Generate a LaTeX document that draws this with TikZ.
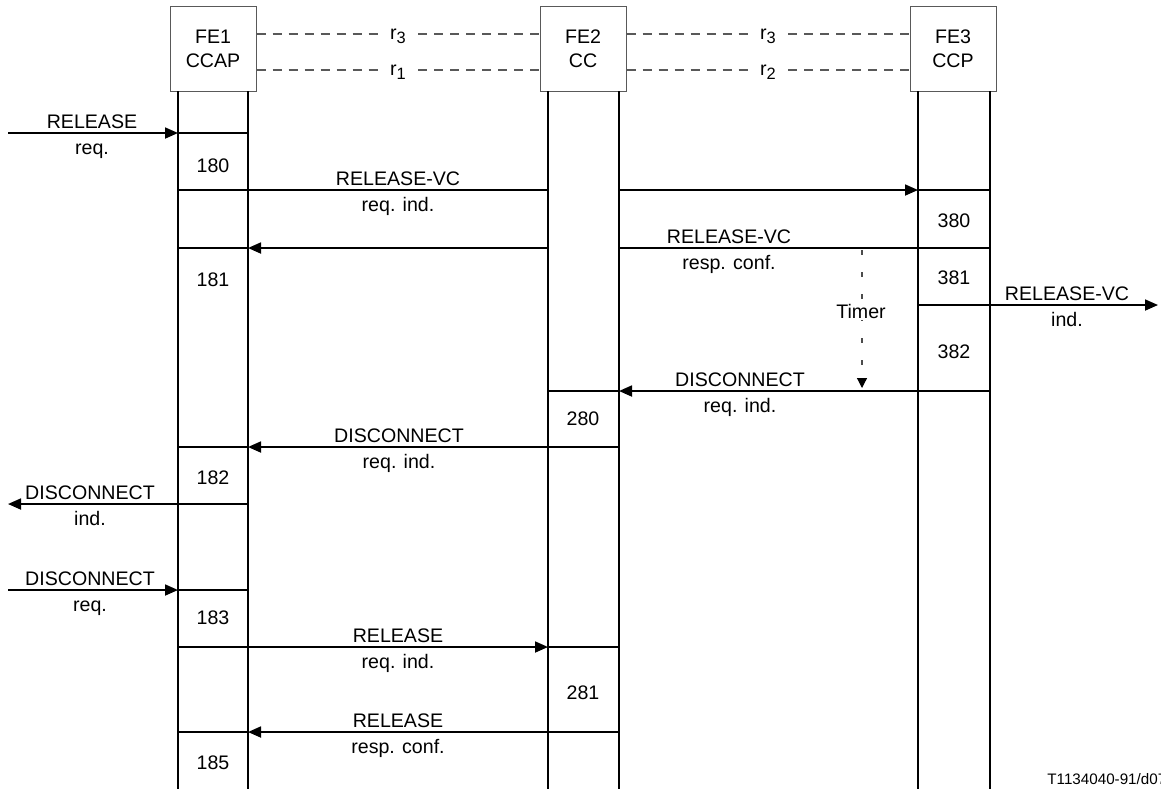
\documentclass[tikz,border=0pt]{standalone}
\usepackage{fontspec}
\setmainfont{Liberation Sans}
\usetikzlibrary{arrows.meta}

\newcommand{\relsub}[1]{r\raisebox{-0.4ex}{\fontsize{8.2}{9}\selectfont #1}}

\begin{document}
\begin{tikzpicture}[x=0.5pt, y=-0.5pt, every node/.style={font=\fontsize{9.8}{12}\selectfont}]
        % Define styles
        \tikzstyle{fe} = [rectangle, draw=gray!70!black, line width=0.5pt, fill=white,
                          minimum width=43pt, minimum height=42.5pt, align=center, inner sep=0pt]
        \tikzstyle{life} = [line width=1.2pt]
        \tikzstyle{bar} = [line width=0.9pt]
        \tikzstyle{msg} = [line width=0.9pt, -{Triangle[length=6.5pt,width=5.5pt]}]
        \tikzstyle{ref} = [gray!70!black, line width=0.6pt, dash pattern=on 4.5pt off 3.5pt]
        \tikzstyle{reflab} = [anchor=mid, inner xsep=6pt, inner ysep=0pt]
        \tikzstyle{lab} = [anchor=base, inner sep=0pt]
        \tikzstyle{num} = [inner sep=1pt]
        \tikzstyle{timer} = [gray!60!black, line width=0.6pt, dash pattern=on 2.5pt off 8.5pt,
                             -{Triangle[length=5pt,width=5pt,color=black]}]

        \useasboundingbox (0,0) rectangle (1161,789);

        % Functional entities
        \node (fe1) [fe] at (213,48.5) {FE1\\CCAP};
        \node (fe2) [fe] at (583,48.5) {FE2\\CC};
        \node (fe3) [fe] at (953,48.5) {FE3\\CCP};

        % Relationships
        \node (r3a) [reflab] at (398,34) {\relsub{3}};
        \node (r1) [reflab] at (398,70) {\relsub{1}};
        \node (r3b) [reflab] at (768,34) {\relsub{3}};
        \node (r2) [reflab] at (768,70) {\relsub{2}};
        \draw [ref] (fe1.east |- r3a.mid) -- (r3a.mid west);
        \draw [ref] (r3a.mid east) -- (fe2.west |- r3a.mid);
        \draw [ref] (fe1.east |- r1.mid) -- (r1.mid west);
        \draw [ref] (r1.mid east) -- (fe2.west |- r1.mid);
        \draw [ref] (fe2.east |- r3b.mid) -- (r3b.mid west);
        \draw [ref] (r3b.mid east) -- (fe3.west |- r3b.mid);
        \draw [ref] (fe2.east |- r2.mid) -- (r2.mid west);
        \draw [ref] (r2.mid east) -- (fe3.west |- r2.mid);

        % Points on the lifelines, one row per event
        \foreach \r/\y in {top/91, a/133, b/190, c/248, d/305, e/391, f/447,
                           g/504, h/590, i/647, j/732, bot/789}
          \foreach \l/\x in {env/8, p/178, q/248, r/548, s/619, t/918, u/990, out/1158}
            \coordinate (\l-\r) at (\x,\y);

        % Lifelines
        \foreach \l in {p,q,r,s,t,u}
          \draw [life] (\l-top) -- (\l-bot);

        % Messages
        \draw [msg] (env-a) -- (p-a);
        \draw [bar] (p-a) -- (q-a);
        \draw [bar] (p-b) -- (r-b);
        \draw [msg] (s-b) -- (t-b);
        \draw [bar] (t-b) -- (u-b);
        \draw [bar] (u-c) -- (s-c);
        \draw [msg] (r-c) -- (q-c);
        \draw [bar] (q-c) -- (p-c);
        \draw [bar] (t-d) -- (u-d);
        \draw [msg] (u-d) -- (out-d);
        \draw [msg] (u-e) -- (s-e);
        \draw [bar] (s-e) -- (r-e);
        \draw [msg] (s-f) -- (q-f);
        \draw [bar] (q-f) -- (p-f);
        \draw [msg] (q-g) -- (env-g);
        \draw [msg] (env-h) -- (p-h);
        \draw [bar] (p-h) -- (q-h);
        \draw [msg] (p-i) -- (r-i);
        \draw [bar] (r-i) -- (s-i);
        \draw [msg] (s-j) -- (q-j);
        \draw [bar] (q-j) -- (p-j);

        % Timer
        \coordinate (tmr-start) at (862,250);
        \coordinate (tmr-end) at (862,388);
        \draw [timer] (tmr-start) -- (tmr-end);
        \node (tmr) [num, fill=white] at (861,311) {Timer};

        % Message labels
        \node (la1) [lab] at (92,128) {RELEASE};
        \node (la2) [lab] at (92,154) {req.};
        \node (lb1) [lab] at (398,185) {RELEASE-VC};
        \node (lb2) [lab] at (398,211) {req. ind.};
        \node (lc1) [lab] at (729,243) {RELEASE-VC};
        \node (lc2) [lab] at (729,269) {resp. conf.};
        \node (ld1) [lab] at (1067,300) {RELEASE-VC};
        \node (ld2) [lab] at (1067,326) {ind.};
        \node (le1) [lab] at (740,386) {DISCONNECT};
        \node (le2) [lab] at (740,412) {req. ind.};
        \node (lf1) [lab] at (399,442) {DISCONNECT};
        \node (lf2) [lab] at (399,468) {req. ind.};
        \node (lg1) [lab] at (90,499) {DISCONNECT};
        \node (lg2) [lab] at (90,525) {ind.};
        \node (lh1) [lab] at (90,585) {DISCONNECT};
        \node (lh2) [lab] at (90,611) {req.};
        \node (li1) [lab] at (398,642) {RELEASE};
        \node (li2) [lab] at (398,668) {req. ind.};
        \node (lj1) [lab] at (398,727) {RELEASE};
        \node (lj2) [lab] at (398,753) {resp. conf.};

        % State numbers
        \foreach \n/\x/\y in {180/213/166, 181/213/280, 182/213/478, 183/213/618, 185/213/763,
                              280/583/419, 281/583/693, 380/954/221, 381/954/278, 382/954/352}
          \node (st\n) [num] at (\x,\y) {\n};

        % Figure tag
        \node (tag) [anchor=base west, inner sep=0pt, font=\fontsize{7.6}{9}\selectfont] at (1047,784) {T1134040-91/d07};
    \end{tikzpicture}
\end{document}
